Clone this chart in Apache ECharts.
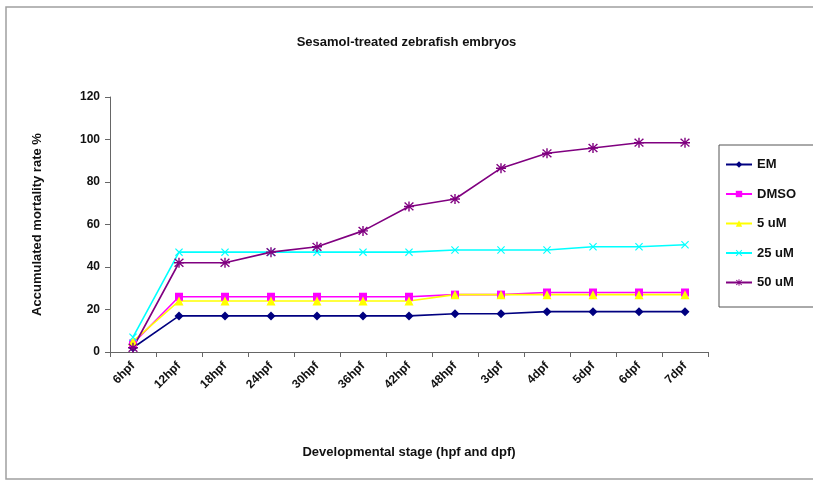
<!DOCTYPE html>
<html lang="en">
<head>
    <meta charset="utf-8">
    <title>Sesamol-treated zebrafish embryos</title>
    <script src="https://cdn.jsdelivr.net/npm/echarts@6/dist/echarts.min.js"></script>
    <style>
        html, body { margin: 0; padding: 0; background: #fff; }
        #chart { width: 813px; height: 484px; }
    </style>
</head>
<body>
<div id="chart"></div>
<script type="text/javascript">
    // stages on the x axis
    var stages = ['6hpf', '12hpf', '18hpf', '24hpf', '30hpf', '36hpf', '42hpf',
        '48hpf', '3dpf', '4dpf', '5dpf', '6dpf', '7dpf'];

    // accumulated mortality (%)
    var em    = [2, 17, 17, 17, 17, 17, 17, 18, 18, 19, 19, 19, 19];
    var dmso  = [4, 26, 26, 26, 26, 26, 26, 27, 27, 28, 28, 28, 28];
    var uM5   = [5, 24, 24, 24, 24, 24, 24, 27, 27, 27, 27, 27, 27];
    var uM25  = [7, 47, 47, 47, 47, 47, 47, 48, 48, 48, 49.5, 49.5, 50.5];
    var uM50  = [2, 42, 42, 47, 49.5, 57, 68.5, 72, 86.5, 93.5, 96, 98.5, 98.5];

    var seriesNames = ['EM', 'DMSO', '5 uM', '25 uM', '50 uM'];

    var yTicks = [0, 20, 40, 60, 80, 100, 120];

    var boldFont = 'Liberation Sans';

    var xMark = 'path://M0,1L1,0L5,4L9,0L10,1L6,5L10,9L9,10L5,6L1,10L0,9L4,5Z';
    var starMark = 'path://M4.3,0H5.7V3.6L8.9,0.6L9.9,1.6L6.7,4.3H10V5.7H6.7L9.9,8.4L8.9,9.4L5.7,6.4V10H4.3V6.4L1.1,9.4L0.1,8.4L3.3,5.7H0V4.3H3.3L0.1,1.6L1.1,0.6L4.3,3.6Z';

    function makeSeries(name, data, color, symbol, size) {
        return {
            name: name,
            type: 'line',
            data: data,
            symbol: symbol,
            symbolSize: size,
            showAllSymbol: true,
            lineStyle: {color: color, width: 1.6},
            itemStyle: {color: color},
            emphasis: {disabled: true},
            animation: false
        };
    }

    var myChart = echarts.init(document.getElementById('chart'));

    var option = {
        backgroundColor: '#fff',
        title: {
            text: 'Sesamol-treated zebrafish embryos',
            left: 'center',
            top: 31,
            textStyle: {fontFamily: boldFont, fontSize: 13, fontWeight: 'bold', color: '#111'}
        },
        graphic: [{
            type: 'rect',
            shape: {x: 6, y: 7, width: 820, height: 472},
            style: {fill: null, stroke: '#a0a0a0', lineWidth: 1.5},
            silent: true
        }],
        legend: {
            orient: 'vertical',
            left: 719,
            top: 145,
            width: 110,
            padding: [13, 30, 18, 6],
            itemGap: 16.5,
            itemWidth: 26,
            itemHeight: 8,
            borderColor: '#555',
            borderWidth: 1,
            data: seriesNames,
            textStyle: {fontFamily: boldFont, fontSize: 13, fontWeight: 'bold', color: '#111'}
        },
        grid: {
            left: 110,
            right: 105,
            top: 97,
            bottom: 132
        },
        xAxis: {
            type: 'category',
            data: stages,
            boundaryGap: true,
            name: 'Developmental stage (hpf and dpf)',
            nameLocation: 'middle',
            nameGap: 94,
            nameTextStyle: {fontFamily: boldFont, fontSize: 13, fontWeight: 'bold', color: '#111'},
            axisLine: {lineStyle: {color: '#666', width: 1}},
            axisTick: {show: true, length: 5, alignWithLabel: false, lineStyle: {color: '#666'}},
            axisLabel: {
                rotate: 45,
                margin: 12,
                interval: 0,
                fontFamily: boldFont,
                fontSize: 12,
                fontWeight: 'bold',
                color: '#111'
            },
            splitLine: {show: false}
        },
        yAxis: {
            type: 'value',
            min: yTicks[0],
            max: yTicks[yTicks.length - 1],
            interval: 20,
            name: 'Accumulated mortality rate %',
            nameLocation: 'middle',
            nameGap: 66,
            nameTextStyle: {fontFamily: boldFont, fontSize: 13, fontWeight: 'bold', color: '#111'},
            axisLine: {show: true, lineStyle: {color: '#666', width: 1}},
            axisTick: {show: true, length: 5, lineStyle: {color: '#666'}},
            axisLabel: {
                margin: 10,
                fontFamily: boldFont,
                fontSize: 12,
                fontWeight: 'bold',
                color: '#111'
            },
            splitLine: {show: false}
        },
        series: [
            makeSeries('EM', em, '#000080', 'diamond', 9),
            makeSeries('DMSO', dmso, '#ff00ff', 'rect', 8),
            makeSeries('5 uM', uM5, '#ffff00', 'triangle', 9),
            makeSeries('25 uM', uM25, '#00ffff', xMark, 8),
            makeSeries('50 uM', uM50, '#800080', starMark, 10)
        ]
    };

    myChart.setOption(option);
</script>
</body>
</html>
